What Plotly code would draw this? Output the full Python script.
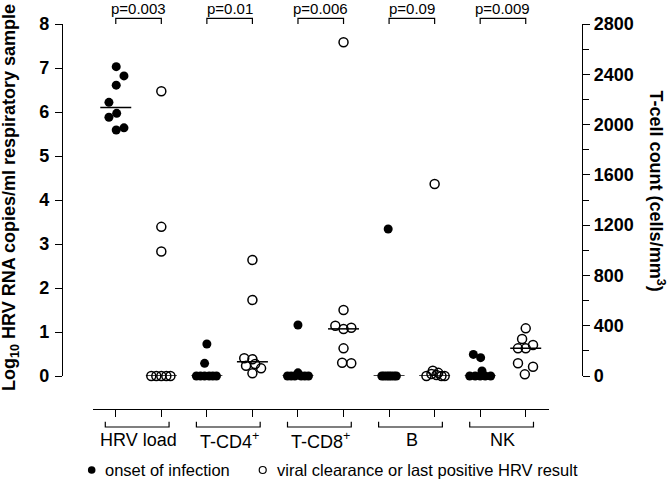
import plotly.graph_objects as go

# ---------------- data ----------------
groups = ["HRV load", "T-CD4<sup>+</sup>", "T-CD8<sup>+</sup>", "B", "NK"]
p_values = ["p=0.003", "p=0.01", "p=0.006", "p=0.09", "p=0.009"]

# HRV load: log10 copies/ml (left axis)
hrv_onset = [7.03, 6.82, 6.61, 6.22, 5.97, 5.88, 5.64, 5.59]
hrv_clear = [6.47, 3.39, 2.83, 0, 0, 0, 0, 0]
# cell counts: cells/mm3 (right axis)
cd4_onset = [255, 101, 0, 0, 0, 0, 0, 0]
cd4_clear = [923, 605, 141, 133, 95, 82, 61, 21]
cd8_onset = [406, 0, 0, 0, 25, 0, 0, 0]
cd8_clear = [2655, 525, 400, 384, 374, 220, 106, 101]
b_onset = [1169, 0, 0, 0, 0, 0, 0, 0]
b_clear = [1527, 42, 25, 16, 8, 0, 0, 0]
nk_onset = [172, 146, 40, 0, 0, 0, 0, 0]
nk_clear = [379, 294, 247, 220, 220, 101, 74, 13]

# medians drawn as horizontal bars (onset, clearance per group)
medians = [6.1, 0, 0, 113, 0, 375, 0, 0, 0, 220]

left_ticks = list(range(0, 9))
right_ticks = list(range(0, 2801, 400))

# ---------------- layout helpers (positions / styles) ----------------
jitter = {
    "hrv_onset": [0.01, 0.18, 0.01, -0.15, 0.02, -0.15, 0.18, 0.01],
    "hrv_clear": [0.0, 0.0, 0.0, -0.22, -0.11, 0.0, 0.11, 0.2],
    "cd4_onset": [0.0, -0.05, -0.23, -0.14, -0.05, 0.05, 0.13, 0.21],
    "cd4_clear": [0.0, 0.0, -0.18, 0.0, 0.06, -0.14, 0.19, 0.0],
    "cd8_onset": [0.0, -0.23, -0.15, -0.07, 0.0, 0.07, 0.15, 0.23],
    "cd8_clear": [0.0, 0.0, -0.18, 0.17, 0.0, 0.0, -0.03, 0.17],
    "b_onset": [-0.02, -0.16, -0.11, -0.05, 0.0, 0.05, 0.11, 0.16],
    "b_clear": [0.0, -0.04, 0.08, -0.07, 0.04, -0.18, 0.15, 0.22],
    "nk_onset": [-0.15, 0.01, 0.04, -0.23, -0.11, 0.0, 0.11, 0.23],
    "nk_clear": [0.0, -0.08, 0.16, -0.17, 0.0, -0.17, 0.16, -0.02],
}

series = [
    (1, hrv_onset, "hrv_onset", True, "y"),
    (2, hrv_clear, "hrv_clear", False, "y"),
    (3, cd4_onset, "cd4_onset", True, "y2"),
    (4, cd4_clear, "cd4_clear", False, "y2"),
    (5, cd8_onset, "cd8_onset", True, "y2"),
    (6, cd8_clear, "cd8_clear", False, "y2"),
    (7, b_onset, "b_onset", True, "y2"),
    (8, b_clear, "b_clear", False, "y2"),
    (9, nk_onset, "nk_onset", True, "y2"),
    (10, nk_clear, "nk_clear", False, "y2"),
]

FONT = "Arial, Liberation Sans, sans-serif"
fig = go.Figure()

for pos, vals, key, filled, yax in series:
    xs = [pos + j for j in jitter[key]]
    if filled:
        marker = dict(symbol="circle", size=9, color="black", line=dict(width=0))
    else:
        marker = dict(symbol="circle-open", size=9, color="black", line=dict(width=1.5, color="black"))
    fig.add_trace(go.Scatter(x=xs, y=vals, mode="markers", marker=marker, yaxis=yax,
                             showlegend=False, cliponaxis=False, hoverinfo="skip"))

# median bars
for i, m in enumerate(medians):
    pos = i + 1
    yax = "y" if pos <= 2 else "y2"
    fig.add_trace(go.Scatter(x=[pos - 0.34, pos + 0.34], y=[m, m], mode="lines",
                             line=dict(color="black", width=1.5), yaxis=yax,
                             showlegend=False, cliponaxis=False, hoverinfo="skip"))

shapes = []
annotations = []
# p-value brackets (top) and category brackets (bottom)
y_top_h = 1.0148
for k, (g, p) in enumerate(zip(groups, p_values)):
    a = 2 * k + 1
    shapes.append(dict(type="path", xref="x", yref="paper",
                       path=f"M {a},1.0 L {a},{y_top_h} L {a+1},{y_top_h} L {a+1},1.0",
                       line=dict(color="black", width=1.2)))
    annotations.append(dict(x=a + 0.5, y=1.04, xref="x", yref="paper", text=p,
                            showarrow=False, font=dict(family=FONT, size=15, color="black"),
                            xanchor="center", yanchor="middle"))
    c = a + 0.47
    shapes.append(dict(type="path", xref="x", yref="paper",
                       path=f"M {c-0.7},-0.033 L {c-0.7},-0.0468 L {c+0.7},-0.0468 L {c+0.7},-0.033",
                       line=dict(color="black", width=1.2)))
    annotations.append(dict(x=a + 0.5, y=-0.0817, xref="x", yref="paper", text=g,
                            showarrow=False, font=dict(family=FONT, size=18, color="black"),
                            xanchor="center", yanchor="middle"))

# axis titles
annotations.append(dict(x=-0.1, y=0.548, xref="paper", yref="paper",
                        text="<b>Log<sub>10</sub> HRV RNA copies/ml respiratory sample</b>",
                        textangle=-90, showarrow=False,
                        font=dict(family=FONT, size=18, color="black"),
                        xanchor="center", yanchor="middle"))
annotations.append(dict(x=1.144, y=0.565, xref="paper", yref="paper",
                        text="<b>T-cell count (cells/mm<sup>3</sup>)</b>",
                        textangle=90, showarrow=False,
                        font=dict(family=FONT, size=18, color="black"),
                        xanchor="center", yanchor="middle"))

# legend drawn manually
leg_y = -0.1584
shapes.append(dict(type="circle", xref="paper", yref="paper", xsizemode="pixel", ysizemode="pixel",
                   xanchor=0.0571, yanchor=leg_y, x0=-3.8, x1=3.8, y0=-3.8, y1=3.8,
                   fillcolor="black", line=dict(color="black", width=0)))
shapes.append(dict(type="circle", xref="paper", yref="paper", xsizemode="pixel", ysizemode="pixel",
                   xanchor=0.386, yanchor=leg_y, x0=-3.5, x1=3.5, y0=-3.5, y1=3.5,
                   fillcolor="rgba(0,0,0,0)", line=dict(color="black", width=1.2)))
annotations.append(dict(x=0.078, y=leg_y, xref="paper", yref="paper", text="onset of infection",
                        showarrow=False, font=dict(family=FONT, size=16.5, color="black"),
                        xanchor="left", yanchor="middle"))
annotations.append(dict(x=0.41, y=leg_y, xref="paper", yref="paper",
                        text="viral clearance or last positive HRV result",
                        showarrow=False, font=dict(family=FONT, size=16.5, color="black"),
                        xanchor="left", yanchor="middle"))

tickfont = dict(family=FONT, size=18, color="black", weight="bold")

fig.update_layout(
    width=668, height=489,
    margin=dict(l=62, r=86, t=24, b=80),
    paper_bgcolor="white", plot_bgcolor="white",
    showlegend=False,
    xaxis=dict(domain=[0.0596, 0.9356], range=[0.5, 10.5], anchor="free", position=0,
               showline=True, linecolor="black", linewidth=1.3, showgrid=False, zeroline=False,
               tickvals=list(range(1, 11)), ticks="outside", ticklen=7, tickwidth=1.2,
               tickcolor="black", showticklabels=False),
    yaxis=dict(domain=[0.0857, 1], range=[0, 8], anchor="free", position=0,
               showline=True, linecolor="black", linewidth=1.3, showgrid=False, zeroline=False,
               tickvals=left_ticks, ticks="outside", ticklen=7, tickwidth=1.2, tickcolor="black",
               tickfont=tickfont, ticklabelstandoff=2),
    yaxis2=dict(domain=[0.0857, 1], range=[0, 2800], anchor="free", position=1, side="right",
                overlaying="y", showline=True, linecolor="black", linewidth=1.3, showgrid=False,
                zeroline=False, tickvals=right_ticks, ticks="outside", ticklen=7, tickwidth=1.2,
                tickcolor="black", tickfont=tickfont,
                minor=dict(ticks="outside", dtick=200, ticklen=6, tickwidth=1.2, tickcolor="black",
                           showgrid=False)),
    shapes=shapes,
    annotations=annotations,
)

fig.write_html("out.html", config={"displayModeBar": False},
               post_script="document.body.style.margin='0px';document.body.style.padding='0px';")
